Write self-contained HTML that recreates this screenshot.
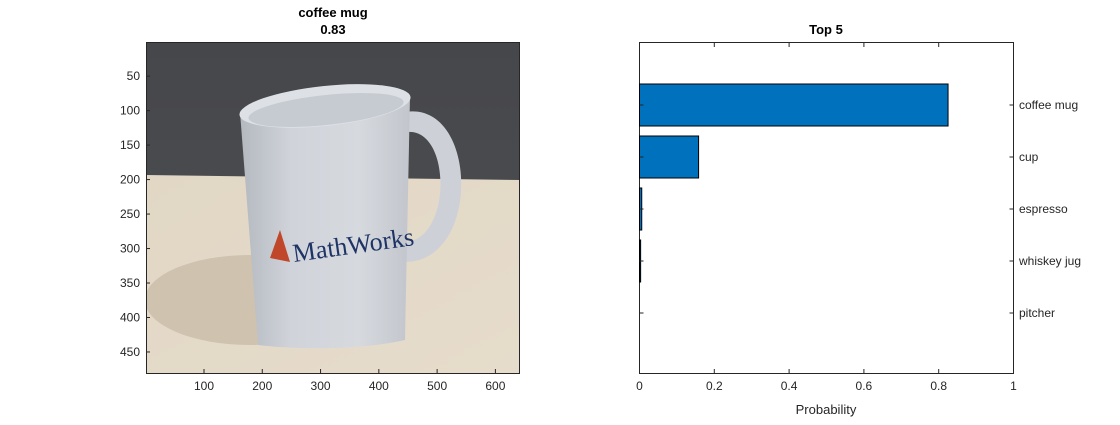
<!DOCTYPE html>
<html><head><meta charset="utf-8"><style>
body{margin:0;background:#fff;width:1120px;height:420px;overflow:hidden}
svg text{font-family:"Liberation Sans",Arial,sans-serif}
</style></head><body>
<svg width="1120" height="420">
<g id="left">
<defs>
<linearGradient id="wall" x1="0" y1="0" x2="0" y2="1"><stop offset="0" stop-color="#46474b"/><stop offset="1" stop-color="#4e4f52"/></linearGradient>
<linearGradient id="table" x1="0" y1="0" x2="1" y2="1"><stop offset="0" stop-color="#e2d7c5"/><stop offset="1" stop-color="#e6dccb"/></linearGradient>
<linearGradient id="mug" x1="0" y1="0" x2="1" y2="0"><stop offset="0" stop-color="#b4b8bf"/><stop offset="0.3" stop-color="#d0d4da"/><stop offset="0.7" stop-color="#d6d9de"/><stop offset="1" stop-color="#c2c6cc"/></linearGradient>
<clipPath id="imgclip"><rect x="146" y="42" width="373" height="331"/></clipPath>
</defs>
<g clip-path="url(#imgclip)">
<rect x="146" y="42" width="373" height="331" fill="url(#wall)"/>
<polygon points="146,175 519,180 519,373 146,373" fill="url(#table)"/>
<ellipse cx="250" cy="300" rx="105" ry="45" fill="#c9bca8" opacity="0.8"/>
<path d="M405,112 C478,100 482,262 405,262 L405,242 C452,240 452,128 407,132 Z" fill="#cdd1d7"/>
<path d="M240,112 L410,96 L405,340 C360,350 300,350 258,345 Z" fill="url(#mug)"/>
<ellipse cx="325" cy="106" rx="86" ry="20" transform="rotate(-6 325 106)" fill="#dde1e6"/>
<ellipse cx="326" cy="110" rx="78" ry="15" transform="rotate(-6 326 110)" fill="#c6cbd2"/>
<polygon points="280,230 290,262 270,258" fill="#c0472a"/>
<text x="294" y="262" style="font-family:'Liberation Serif',serif" font-size="26" fill="#1f3466" transform="rotate(-8 294 262)">MathWorks</text>
</g>
<rect x="146.5" y="42.5" width="373" height="331" fill="none" stroke="#262626" stroke-width="1"/>
<text x="333" y="17" text-anchor="middle" font-size="13" font-weight="bold" fill="#000">coffee mug</text>
<text x="333" y="34" text-anchor="middle" font-size="13" font-weight="bold" fill="#000">0.83</text>
<g id="imgticks" font-size="12" fill="#262626"></g>
</g>
<g id="right">
<text x="826" y="34" text-anchor="middle" font-size="13" font-weight="bold" fill="#000">Top 5</text>
<rect x="639.5" y="42.5" width="374" height="331" fill="#fff" stroke="#262626"/>
<g id="bars"></g>
<text x="826" y="414" text-anchor="middle" font-size="13" fill="#262626">Probability</text>
</g>
</svg>
<script>
const categories=["coffee mug","cup","espresso","whiskey jug","pitcher"];
const probs=[0.825,0.158,0.006,0.003,0.0005];
const xticks=[0,0.2,0.4,0.6,0.8,1];
const imgXTicks=[100,200,300,400,500,600];
const imgYTicks=[50,100,150,200,250,300,350,400,450];
const NS="http://www.w3.org/2000/svg";
function mk(t,a,p){const e=document.createElementNS(NS,t);for(const k in a)e.setAttribute(k,a[k]);p.appendChild(e);return e;}
const ix=v=>146+(v-0.5)/640*373, iy=v=>42+(v-0.5)/480*331;
const it=document.getElementById('imgticks');
imgXTicks.forEach(v=>{const x=ix(v);
 const l=mk('line',{x1:x,x2:x,y1:373,y2:369,stroke:'#262626'},it);
 
 
 const t=mk('text',{x:x,y:390,'text-anchor':'middle'},it);t.textContent=v;
 
 });
imgYTicks.forEach(v=>{const y=iy(v);
 const l=mk('line',{x1:146,x2:150,y1:y,y2:y,stroke:'#262626'},it);
 
 
 const t=mk('text',{x:140,y:y+4,'text-anchor':'end'},it);t.textContent=v;
 
 });
const X0=639.5,X1=1013.5,xs=v=>X0+v*(X1-X0);
const ys=i=>105+i*52;
const g=document.getElementById('bars');
xticks.forEach(v=>{const x=xs(v);
 mk('line',{x1:x,x2:x,y1:373,y2:369,stroke:'#262626'},g);
 mk('line',{x1:x,x2:x,y1:43,y2:47,stroke:'#262626'},g);
 const t=mk('text',{x:x,y:390,'text-anchor':'middle','font-size':12,fill:'#262626'},g);t.textContent=v;
 
 });
categories.forEach((c,i)=>{const y=ys(i);
 const w=xs(probs[i])-X0;
 if(w>=0.8){
 const b=mk('rect',{x:X0,y:y-21,width:w,height:42,fill:'#0072bd',stroke:'#000','stroke-width':1},g);
 
 }
 mk('line',{x1:X0,x2:X0+4,y1:y,y2:y,stroke:'#262626'},g);
 mk('line',{x1:X1,x2:X1-4,y1:y,y2:y,stroke:'#262626'},g);
 const t=mk('text',{x:1019,y:y+4,'font-size':12,fill:'#262626'},g);t.textContent=c;
 
 });
</script>
</body></html>
